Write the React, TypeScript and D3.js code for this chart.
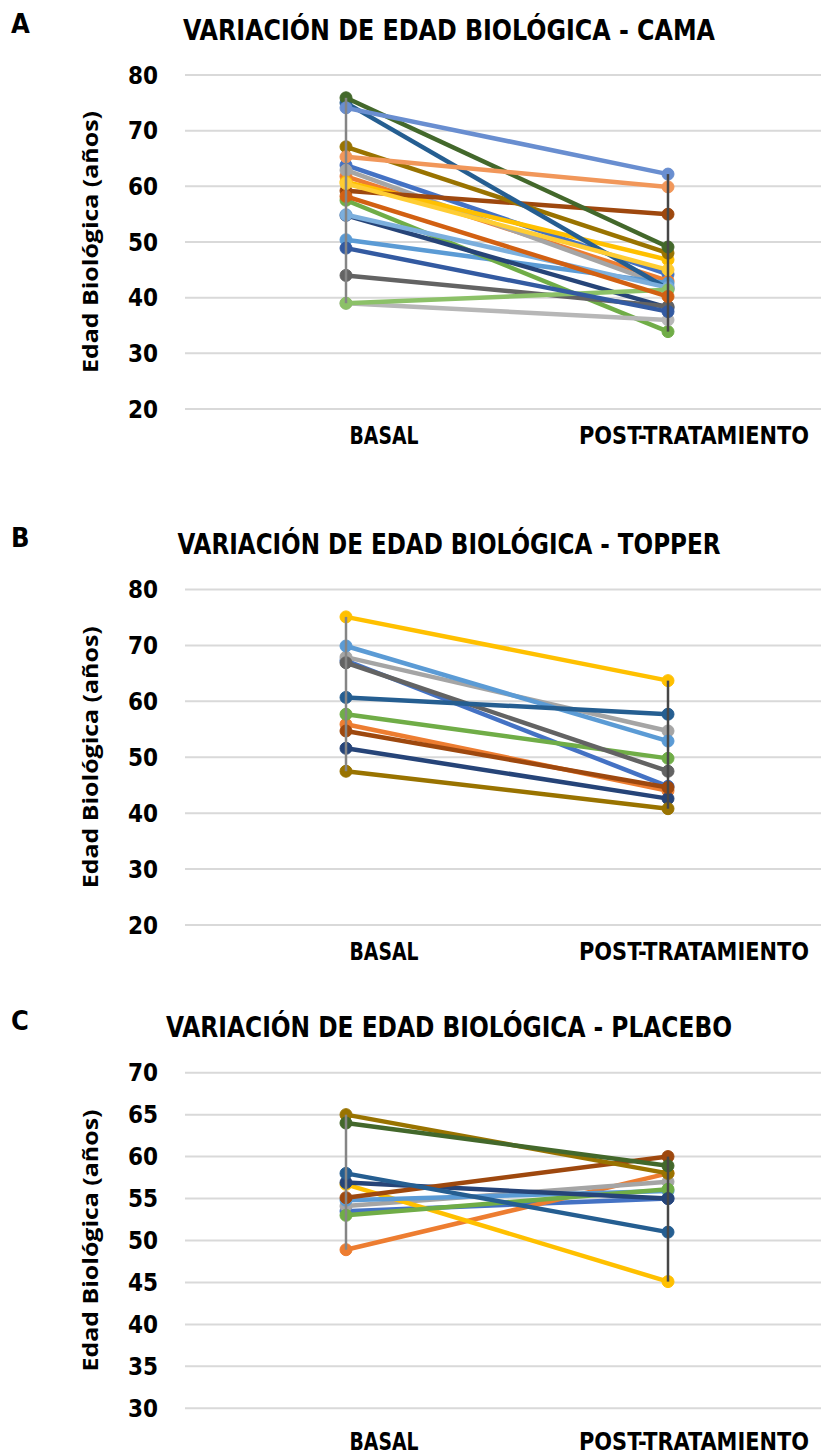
import React from "react";
import * as d3 from "d3";

const CATEGORIES = ["BASAL", "POST-TRATAMIENTO"];

const PANEL_LETTERS = ["A", "B", "C"];
const PANEL_TITLES = [
  "VARIACIÓN DE EDAD BIOLÓGICA - CAMA",
  "VARIACIÓN DE EDAD BIOLÓGICA - TOPPER",
  "VARIACIÓN DE EDAD BIOLÓGICA - PLACEBO",
];
const Y_TITLE = "Edad Biológica (años)";

const TICKS_A = [20, 30, 40, 50, 60, 70, 80];
const TICKS_B = [20, 30, 40, 50, 60, 70, 80];
const TICKS_C = [30, 35, 40, 45, 50, 55, 60, 65, 70];

// Panel A – CAMA (20 subjects)
const COLORS_A = [
  "#4472C4", "#ED7D31", "#A5A5A5", "#FFC000", "#5B9BD5", "#70AD47", "#264478",
  "#9E480E", "#636363", "#997300", "#255E91", "#43682B", "#698ED0", "#F1975A",
  "#B7B7B7", "#FFCD33", "#7CAFDD", "#8CC168", "#335AA1", "#D26012",
];
const BASAL_A = [63.8, 61.8, 62.9, 60.8, 50.4, 57.5, 54.8, 59.2, 44.0, 67.1, 75.0, 75.9, 74.1, 65.3, 39.0, 60.5, 54.9, 39.0, 48.9, 58.2];
const POST_A = [44.2, 43.0, 42.0, 46.8, 42.6, 33.9, 38.2, 55.0, 38.4, 48.0, 41.6, 49.1, 62.2, 59.9, 36.0, 45.0, 41.8, 41.4, 37.5, 40.2];

// Panel B – TOPPER (11 subjects)
const COLORS_B = [
  "#4472C4", "#ED7D31", "#A5A5A5", "#FFC000", "#5B9BD5", "#70AD47", "#264478",
  "#9E480E", "#636363", "#997300", "#255E91",
];
const BASAL_B = [67.3, 55.9, 67.9, 75.1, 69.9, 57.7, 51.6, 54.7, 66.9, 47.5, 60.7];
const POST_B = [44.8, 44.0, 54.7, 63.7, 52.9, 49.8, 42.6, 44.6, 47.5, 40.8, 57.7];

// Panel C – PLACEBO (11 subjects)
const COLORS_C = [
  "#4472C4", "#ED7D31", "#A5A5A5", "#FFC000", "#5B9BD5", "#70AD47", "#264478",
  "#9E480E", "#997300", "#255E91", "#43682B",
];
const BASAL_C = [53.5, 48.9, 54.1, 56.7, 54.8, 53.0, 56.9, 55.1, 65.0, 58.0, 64.0];
const POST_C = [55.0, 58.0, 57.0, 45.1, 55.9, 56.1, 55.0, 60.0, 58.0, 51.0, 58.9];

const W = 821;
const H = 1455;

const TICK_FONT = "'Liberation Sans Narrow', 'DejaVu Sans Condensed', 'Roboto', sans-serif";
const YTITLE_FONT = "'Open Sans', 'DejaVu Sans', sans-serif";

type PanelProps = {
  letter: string;
  title: string;
  ticks: number[];
  basal: number[];
  post: number[];
  colors: string[];
  plotTop: number;
  plotBottom: number;
  titleWidth: number;
  catGap: number;
};

function Panel({ letter, title, ticks, basal, post, colors, plotTop, plotBottom, titleWidth, catGap }: PanelProps) {
  const x = d3.scaleBand<string>().domain(CATEGORIES).range([185, 829]);
  const cx = (c: string) => (x(c) as number) + x.bandwidth() / 2;
  const y = d3
    .scaleLinear()
    .domain([d3.min(ticks) as number, d3.max(ticks) as number])
    .range([plotBottom, plotTop]);

  const line = d3
    .line<[string, number]>()
    .x((d) => cx(d[0]))
    .y((d) => y(d[1]));

  const series = basal.map((b, i) => ({
    color: colors[i],
    pts: [
      [CATEGORIES[0], b],
      [CATEGORIES[1], post[i]],
    ] as [string, number][],
  }));

  const extents = [basal, post].map((arr) => d3.extent(arr) as [number, number]);
  const midY = (plotTop + plotBottom) / 2;
  const labelOffsets = [38, 26];
  const labelWidths = [69, 230];

  return (
    <g>
      <text x={11} y={plotTop - 42.5} fontFamily={TICK_FONT} fontWeight="bold" fontSize={27} fill="#000">
        {letter}
      </text>
      <text
        x={449}
        y={plotTop - 35.5}
        textAnchor="middle"
        fontFamily={TICK_FONT}
        fontWeight="bold"
        fontSize={29}
        fill="#000"
        textLength={titleWidth}
        lengthAdjust="spacingAndGlyphs"
      >
        {title}
      </text>
      {ticks.map((t) => (
        <g key={t}>
          <line x1={185} x2={W} y1={y(t)} y2={y(t)} stroke="#d9d9d9" strokeWidth={2} />
          <text
            x={158}
            y={y(t)}
            dy="0.36em"
            textAnchor="end"
            fontFamily={TICK_FONT}
            fontWeight="bold"
            fontSize={24}
            fill="#000"
          >
            {t}
          </text>
        </g>
      ))}
      <text
        transform={`translate(98,${midY}) rotate(-90)`}
        textAnchor="middle"
        fontFamily={YTITLE_FONT}
        fontWeight="bold"
        fontSize={22}
        fill="#000"
        textLength={262}
        lengthAdjust="spacingAndGlyphs"
      >
        {Y_TITLE}
      </text>
      {CATEGORIES.map((c, i) => (
        <text
          key={c}
          x={cx(c) + labelOffsets[i]}
          y={plotBottom + catGap}
          textAnchor="middle"
          fontFamily={TICK_FONT}
          fontWeight="bold"
          fontSize={24}
          fill="#000"
          textLength={labelWidths[i]}
          lengthAdjust="spacingAndGlyphs"
        >
          {c}
        </text>
      ))}
      {series.map((s, i) => (
        <g key={i}>
          <path d={line(s.pts) as string} fill="none" stroke={s.color} strokeWidth={4.5} strokeLinejoin="round" />
          {s.pts.map((p, j) => (
            <circle key={j} cx={cx(p[0])} cy={y(p[1])} r={6} fill={s.color} stroke={s.color} strokeWidth={1} />
          ))}
        </g>
      ))}
      {CATEGORIES.map((c, i) => (
        <line
          key={c}
          x1={cx(c)}
          x2={cx(c)}
          y1={y(extents[i][1])}
          y2={y(extents[i][0])}
          stroke={i === 0 ? "#858585" : "#474747"}
          strokeWidth={2.5}
        />
      ))}
    </g>
  );
}

export default function App() {
  const panels = [
    { ticks: TICKS_A, basal: BASAL_A, post: POST_A, colors: COLORS_A, top: 75, bottom: 409, tw: 532, gap: 35 },
    { ticks: TICKS_B, basal: BASAL_B, post: POST_B, colors: COLORS_B, top: 589.5, bottom: 925, tw: 543, gap: 35 },
    { ticks: TICKS_C, basal: BASAL_C, post: POST_C, colors: COLORS_C, top: 1072.7, bottom: 1408.3, tw: 566, gap: 42 },
  ];
  return (
    <div style={{ position: "absolute", left: 0, top: 0 }}>
      <svg width={W} height={H} viewBox={`0 0 ${W} ${H}`} style={{ display: "block", background: "#fff" }}>
        <rect x={0} y={0} width={W} height={H} fill="#fff" />
        {panels.map((p, i) => (
          <Panel
            key={i}
            letter={PANEL_LETTERS[i]}
            title={PANEL_TITLES[i]}
            ticks={p.ticks}
            basal={p.basal}
            post={p.post}
            colors={p.colors}
            plotTop={p.top}
            plotBottom={p.bottom}
            titleWidth={p.tw}
            catGap={p.gap}
          />
        ))}
      </svg>
    </div>
  );
}
